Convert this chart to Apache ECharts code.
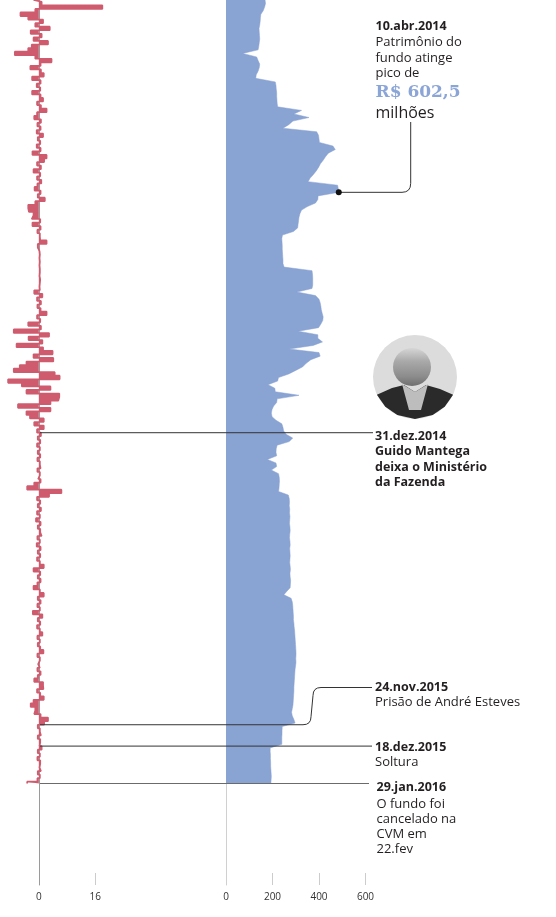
<!DOCTYPE html>
<html><head><meta charset="utf-8">
<script src="https://cdn.jsdelivr.net/npm/echarts@6/dist/echarts.min.js"></script>
<style>html,body{margin:0;padding:0;background:#fff}#c{width:556px;height:917px}</style>
</head><body><div id="c"></div>
<script>
// ---- DATA ----
// first sample date (year, month index, day) and spacing between samples in days
const inicio = [2013, 8, 1];
const passoDias = 4;
// Patrimônio do fundo (R$ milhões)
const patrimonio = [
168,170,166,160,150,148,147,145,142,143,
144,145,143,141,138,72,132,138,145,143,
138,130,128,212,215,216,218,218,219,220,
222,325,292,357,288,270,245,390,398,400,
402,460,470,440,428,418,406,398,388,376,
362,353,480,483,485,396,395,385,350,325,
318,314,312,310,308,290,243,240,241,242,
242,243,244,245,245,250,370,372,373,373,
373,370,305,385,400,405,408,410,414,418,
416,408,398,310,395,395,415,375,272,400,
405,365,345,330,300,270,226,222,181,210,
212,314,220,218,205,198,195,198,215,240,
245,248,260,287,272,220,216,215,218,178,
215,218,195,226,229,230,229,228,226,268,
272,273,272,274,273,275,274,273,275,276,
274,273,275,276,274,275,276,275,274,276,
277,275,276,278,277,276,262,249,280,285,
287,288,289,290,290,292,293,295,296,297,
298,299,300,301,301,300,301,299,297,296,
295,294,293,292,292,291,290,289,288,285,
282,285,292,297,242,241,241,240,240,240,
190,190,191,191,192,192,193,194,195,194,
193];
// Rentabilidade diária (%)
const retorno = [
-1.5,0.8,18,-1,-5.2,-3,1.2,-1,3.1,-2.3,
0.8,-1.5,2.6,-2,-3,-6.8,-1,3.6,0.5,-2.4,
0.6,1.4,-1.9,0.5,-0.6,0.4,-1.9,0.5,1.2,-0.5,
0.6,2.2,-0.5,-1.3,0.6,-0.4,0.5,-0.6,1.2,-0.3,
0.4,-0.6,0.5,-1.8,2.2,1.5,-0.5,0.6,-1.5,0.4,
-0.5,0.7,-0.4,-1.2,0.5,-0.3,1.7,-1,-3,-2.8,
-1.5,-2,0.4,-1.8,0.5,-0.4,0.3,0.4,2.2,-0.3,
0.2,0.3,0.2,0.3,0.2,0.3,0.3,0.2,0.4,0.3,
0.2,0.3,-1.3,1,-0.5,0.6,-0.4,0.5,2.2,-0.5,
0.4,-3,0.6,-7.1,2.9,-2.9,1,-6.3,1.2,3.9,
-1.5,4.1,-3.5,-5.4,-7.1,4.5,5.9,-8.7,-4.8,3.3,
-3.5,5.8,5.5,3.3,-5.9,3.3,-3.5,-2.5,1.4,-1.3,
1.4,-0.5,0.6,-0.3,0.4,-0.5,0.3,-0.3,0.4,-0.4,
0.3,0.5,-0.4,0.3,-0.2,0.5,-1.3,-3.3,6.4,2.9,
-0.5,0.4,-0.3,0.6,-0.5,0.3,-0.8,0.5,-0.3,0.4,
0.8,-0.4,0.3,-0.6,0.5,-0.3,0.4,-0.5,0.3,1.4,
-1.5,0.4,-0.3,0.5,-0.4,-1.5,0.3,1.4,-0.3,0.5,
-0.4,0.3,-1.7,1,-0.3,0.4,-0.5,0.3,1,-0.4,
0.3,-0.3,0.4,1.3,-0.4,0.3,-0.2,0.3,-0.4,0.5,
-0.3,-1.3,1.2,1.3,-0.5,0.4,1.4,-1.5,-2.3,-1,
-1.3,0.5,2.6,1.5,-0.3,0.3,0.6,-0.3,0.4,0.2,
0.8,-0.3,0.3,-0.4,0.4,0.2,0.6,-0.3,0.3,-0.4,
-3.3];
const ticksRetorno = [0, 16];
const ticksPatrimonio = [0, 200, 400, 600];
const periodo = [[2013, 8, 1], [2016, 4, 22]];
const eventoMantega = [2014, 11, 31];
const eventoPrisao = [2015, 10, 24];
const eventoSoltura = [2015, 11, 18];
const eventoCancelamento = [2016, 0, 29];

// ---- CHART ----
const FONT = '"Open Sans", "Noto Sans", sans-serif';
const ts = d => new Date(d[0], d[1], d[2]).getTime();
const tempo = patrimonio.map((_, i) => new Date(inicio[0], inicio[1], inicio[2] + passoDias * i).getTime());
const chart = echarts.init(document.getElementById('c'), null, {renderer: 'canvas'});

function yAx(grid, color) {
  return {type: 'time', gridIndex: grid, inverse: true, min: ts(periodo[0]), max: ts(periodo[1]),
    axisLine: {show: true, onZero: true, lineStyle: {color: color, width: 1}},
    axisTick: {show: false}, axisLabel: {show: false}, splitLine: {show: false}};
}
function xAx(grid, min, max, ticks, labels) {
  return {type: 'value', gridIndex: grid, min: min, max: max,
    axisLine: {show: false}, splitLine: {show: false},
    axisTick: {show: true, inside: true, length: 12, customValues: ticks, lineStyle: {color: '#cccccc'}},
    axisLabel: {show: true, customValues: labels, margin: 7, fontSize: 10, color: '#333', fontFamily: FONT}};
}

chart.setOption({
  animation: false,
  grid: [{left: 0, top: 0, width: 109.4, height: 885}, {left: 226, top: 0, width: 139.5, height: 885}],
  xAxis: [xAx(0, -11, 20, [16], ticksRetorno), xAx(1, 0, 600, [200, 400, 600], ticksPatrimonio)],
  yAxis: [yAx(0, '#9a9a9a'), yAx(1, '#d0d0d0')],
  series: [
    {type: 'line', xAxisIndex: 0, yAxisIndex: 0, data: retorno.map((v, i) => [v, tempo[i]]),
      step: 'middle', showSymbol: false, lineStyle: {color: '#cf5b6e', width: 1.7},
      areaStyle: {color: '#cf5b6e', opacity: 1}, z: 3},
    {type: 'line', xAxisIndex: 1, yAxisIndex: 1, data: patrimonio.map((v, i) => [v, tempo[i]]),
      showSymbol: false, lineStyle: {color: '#89a3d3', width: 0.5}, areaStyle: {color: '#89a3d3', opacity: 1}, z: 2}
  ]
});

// ---- ANNOTATIONS ----
const py = d => chart.convertToPixel({yAxisIndex: 1}, ts(d));
const DARK = '#231f20';
const els = [];
function ln(x1, y1, x2, y2, c) { els.push({type: 'line', z: 100, shape: {x1, y1, x2, y2}, style: {stroke: c || '#333', lineWidth: 1}}); }
function bz(x1, y1, cx, cy, x2, y2) { els.push({type: 'bezierCurve', z: 100, shape: {x1, y1, x2, y2, cpx1: cx, cpy1: cy}, style: {stroke: '#333', lineWidth: 1, fill: 'none'}}); }
function tx(t, x, y, o) {
  o = o || {};
  els.push({type: 'text', z: 100, x: x, y: y, style: {text: t, fill: o.fill || DARK,
    fontSize: o.size || 13, fontWeight: o.bold ? 'bold' : 'normal', fontFamily: o.family || FONT,
    align: 'left', verticalAlign: 'middle'}});
}

// peak
let k = 0; patrimonio.forEach((v, i) => { if (v > patrimonio[k]) k = i; });
const pk = chart.convertToPixel({gridIndex: 1}, [patrimonio[k], tempo[k]]);
ln(pk[0], pk[1], 402, pk[1]);
bz(402, pk[1], 410.7, pk[1], 410.7, pk[1] - 9);
ln(410.7, pk[1] - 9, 410.7, 122);
els.push({type: 'circle', z: 101, shape: {cx: pk[0], cy: pk[1], r: 3}, style: {fill: '#111'}});
tx('10.abr.2014', 375.5, 26, {bold: true, size: 12.5});
tx('Patrimônio do', 375.5, 42.5);
tx('fundo atinge', 375.5, 58);
tx('pico de', 375.5, 73.5);
tx('R$ 602,5', 375.5, 93, {bold: true, size: 17, family: '"DejaVu Serif", serif', fill: '#8aa5d6'});
tx('milhões', 375.5, 113, {size: 16});

// Mantega
const yM = py(eventoMantega);
ln(40, yM, 373, yM);
tx('31.dez.2014', 375, 436, {bold: true, size: 12.5});
tx('Guido Mantega', 375, 451.5, {bold: true, size: 12.5});
tx('deixa o Ministério', 375, 467, {bold: true, size: 12.5});
tx('da Fazenda', 375, 482.5, {bold: true, size: 12.5});

// portrait (drawn)
els.push({type: 'circle', z: 100, shape: {cx: 415, cy: 377, r: 42}, style: {fill: '#dcdcdc'}});
els.push({type: 'polygon', z: 100, shape: {points: [[376.9,394.7],[392,388],[404,385],[415,392],[426,385],[440,389],[453.1,394.7],[444.7,406.7],[432.7,415.1],[415,419],[397.3,415.1],[385.3,406.7]]}, style: {fill: '#2a2a2a'}});
els.push({type: 'polygon', z: 100, shape: {points: [[402,384],[415,392],[428,384],[421,410],[409,410]]}, style: {fill: '#bdbdbd'}});
els.push({type: 'circle', z: 100, shape: {cx: 412, cy: 367, r: 19},
  style: {fill: {type: 'linear', x: 0, y: 0, x2: 0, y2: 1, colorStops: [{offset: 0, color: '#d6d6d6'}, {offset: 0.35, color: '#a9a9a9'}, {offset: 0.75, color: '#8c8c8c'}, {offset: 1, color: '#6f6f6f'}]}}});

// Prisão
const yP = py(eventoPrisao);
ln(40, yP, 303, yP);
bz(303, yP, 311, yP, 311, yP - 8);
ln(311, yP - 8, 313, 695.5);
bz(313, 695.5, 313, 687.5, 321, 687.5);
ln(321, 687.5, 372, 687.5);
tx('24.nov.2015', 375, 687.5, {bold: true, size: 12.5});
tx('Prisão de André Esteves', 375, 702.5);

// Soltura
const yS = py(eventoSoltura);
ln(40, yS, 372, yS);
tx('18.dez.2015', 375, 747, {bold: true, size: 12.5});
tx('Soltura', 375, 762);

// Cancelamento
const yC = py(eventoCancelamento);
ln(40, yC, 369, yC, '#6b6b6b');
tx('29.jan.2016', 376.5, 787, {bold: true, size: 12.5});
tx('O fundo foi', 376.5, 804.5);
tx('cancelado na', 376.5, 819.5);
tx('CVM em', 376.5, 834.5);
tx('22.fev', 376.5, 849.5);

chart.setOption({graphic: {elements: els}});
</script></body></html>
